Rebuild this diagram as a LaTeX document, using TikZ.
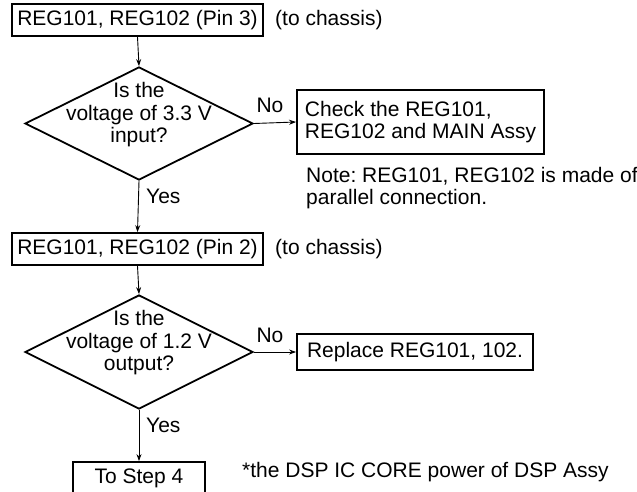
\documentclass[tikz,border=0pt]{standalone}
\usepackage{fontspec}
\setmainfont{Liberation Sans}
\usetikzlibrary{shapes.geometric,arrows.meta}
\frenchspacing
\begin{document}
\begin{tikzpicture}[x=1pt,y=-1pt,
  every node/.style={font=\fontsize{21}{22.5}\selectfont},
  box/.style={draw,line width=1.8pt,inner sep=0pt},
  dia/.style={draw,diamond,line width=1.8pt,inner sep=0pt},
  lbl/.style={inner sep=0pt},
  arr/.style={line width=0.9pt,-{Stealth[length=7pt,width=5pt]}},
  ln/.style={line width=0.9pt}]
\useasboundingbox (0,0) rectangle (637,492);
\node[box,minimum width=251,minimum height=32] (b1) at (137.5,20) {REG101, REG102 (Pin 3)};
\node[lbl,anchor=west] (c1) at (275,20) {(to chassis)};
\node[dia,minimum width=228,minimum height=113] (d1) at (139,123.5) {};
\node[lbl,align=center] (t1) at (139,115) {Is the\\voltage of 3.3 V\\input?};
\node[box,minimum width=247,minimum height=64,align=left] (b2) at (420.5,122) {Check the REG101,\\REG102 and MAIN Assy};
\node[lbl,anchor=south] (n1) at (270,113) {No};
\node[lbl,anchor=west,align=left] (note) at (306,188) {Note: REG101, REG102 is made of\\parallel connection.};
\node[lbl,anchor=west] (y1) at (146,196) {Yes};
\node[box,minimum width=251,minimum height=32] (b3) at (137.5,249) {REG101, REG102 (Pin 2)};
\node[lbl,anchor=west] (c2) at (275,249) {(to chassis)};
\node[dia,minimum width=228,minimum height=114] (d2) at (139,352) {};
\node[lbl,align=center] (t2) at (139,343) {Is the\\voltage of 1.2 V\\output?};
\node[lbl,anchor=south] (n2) at (270,343) {No};
\node[box,minimum width=236,minimum height=36] (b4) at (415,352) {Replace REG101, 102.};
\node[lbl,anchor=west] (y2) at (146,425) {Yes};
\node[box,minimum width=132,minimum height=40] (b5) at (139,482) {};
\node[lbl] (t5) at (139,478) {To Step 4};
\node[lbl,anchor=west] (foot) at (242,472) {*the DSP IC CORE power of DSP Assy};
\draw[arr] (b1.south) -- (d1.north);
\draw[arr] (d1.east) -- (b2.west);
\draw[arr] (d1.south) -- (b3.north);
\draw[arr] (b3.south) -- (d2.north);
\draw[arr] (d2.east) -- (b4.west);
\draw[arr] (d2.south) -- (b5.north);
\end{tikzpicture}
\end{document}
